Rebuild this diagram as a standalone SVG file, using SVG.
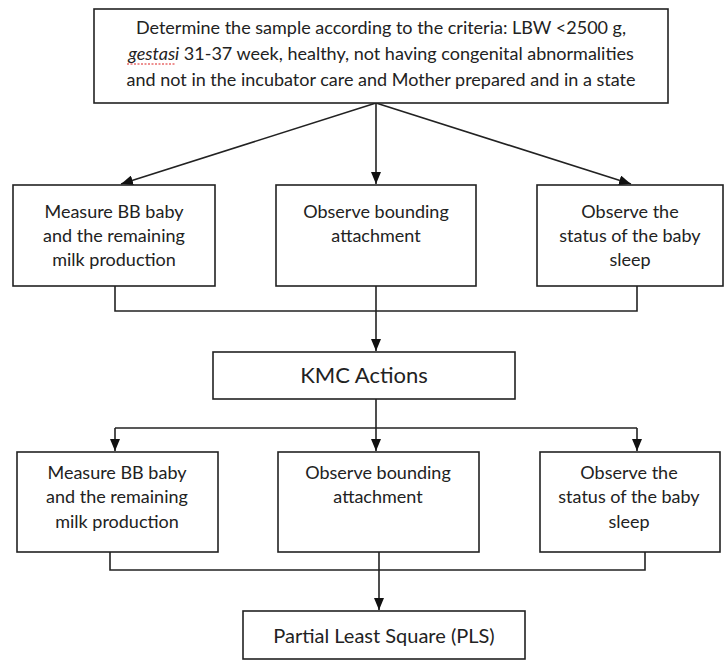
<svg xmlns="http://www.w3.org/2000/svg" width="725" height="661" viewBox="0 0 725 661">
<style>
.box{fill:#fff;stroke:#222;stroke-width:1.6}
.t{font-family:Lato,"Open Sans",sans-serif;font-size:18px;fill:#222;text-anchor:middle}
.k{font-size:22px}
.p{font-size:20px}
.c{fill:none;stroke:#222;stroke-width:1.6}
</style>
<defs>
<marker id="ah" viewBox="0 0 12 10" refX="12" refY="5" markerWidth="12" markerHeight="10" markerUnits="userSpaceOnUse" orient="auto">
<path d="M0,0 L12,5 L0,10 Z" fill="#111"/>
</marker>
</defs>
<rect width="725" height="661" fill="#fff"/>
<g id="connectors">
<line class="c" x1="376" y1="103" x2="121" y2="184" marker-end="url(#ah)"/>
<line class="c" x1="376" y1="103" x2="376" y2="184" marker-end="url(#ah)"/>
<line class="c" x1="376" y1="103" x2="631" y2="184" marker-end="url(#ah)"/>
<polyline class="c" points="115,286 115,311 637,311 637,286"/>
<line class="c" x1="376" y1="286" x2="376" y2="351" marker-end="url(#ah)"/>
<line class="c" x1="376" y1="399" x2="376" y2="451" marker-end="url(#ah)"/>
<polyline class="c" points="115,428 637,428"/>
<line class="c" x1="115" y1="428" x2="115" y2="451" marker-end="url(#ah)"/>
<line class="c" x1="637" y1="428" x2="637" y2="451" marker-end="url(#ah)"/>
<polyline class="c" points="110,552 110,570 645,570 645,552"/>
<line class="c" x1="379" y1="552" x2="379" y2="610" marker-end="url(#ah)"/>
</g>
<g id="top">
<rect class="box" x="94" y="9" width="574" height="94"/>
<text class="t" x="381" y="34">Determine the sample according to the criteria: LBW &lt;2500 g,</text>
<text class="t" x="381" y="60"><tspan font-style="italic">gestasi</tspan> 31-37 week, healthy, not having congenital abnormalities</text>
<text class="t" x="381" y="86">and not in the incubator care and Mother prepared and in a state</text>
<line x1="127" y1="64" x2="176" y2="64" stroke="#d22" stroke-width="1.2" stroke-dasharray="2,1.5"/>
</g>
<g id="measure1">
<rect class="box" x="13" y="185" width="202" height="101"/>
<text class="t" x="114" y="218">Measure BB baby</text>
<text class="t" x="114" y="242">and the remaining</text>
<text class="t" x="114" y="266">milk production</text>
</g>
<g id="bounding1">
<rect class="box" x="276" y="185" width="200" height="101"/>
<text class="t" x="376" y="218">Observe bounding</text>
<text class="t" x="376" y="242">attachment</text>
</g>
<g id="sleep1">
<rect class="box" x="537" y="185" width="186" height="101"/>
<text class="t" x="630" y="218">Observe the</text>
<text class="t" x="630" y="242">status of the baby</text>
<text class="t" x="630" y="266">sleep</text>
</g>
<g id="kmc">
<rect class="box" x="213" y="352" width="302" height="47"/>
<text class="t k" x="364" y="383">KMC Actions</text>
</g>
<g id="measure2">
<rect class="box" x="17" y="452" width="201" height="100"/>
<text class="t" x="117" y="479">Measure BB baby</text>
<text class="t" x="117" y="503">and the remaining</text>
<text class="t" x="117" y="528">milk production</text>
</g>
<g id="bounding2">
<rect class="box" x="278" y="452" width="201" height="100"/>
<text class="t" x="378" y="479">Observe bounding</text>
<text class="t" x="378" y="503">attachment</text>
</g>
<g id="sleep2">
<rect class="box" x="540" y="452" width="180" height="100"/>
<text class="t" x="629" y="479">Observe the</text>
<text class="t" x="629" y="503">status of the baby</text>
<text class="t" x="629" y="528">sleep</text>
</g>
<g id="pls">
<rect class="box" x="243" y="611" width="282" height="48"/>
<text class="t p" x="384" y="643">Partial Least Square (PLS)</text>
</g>
</svg>
